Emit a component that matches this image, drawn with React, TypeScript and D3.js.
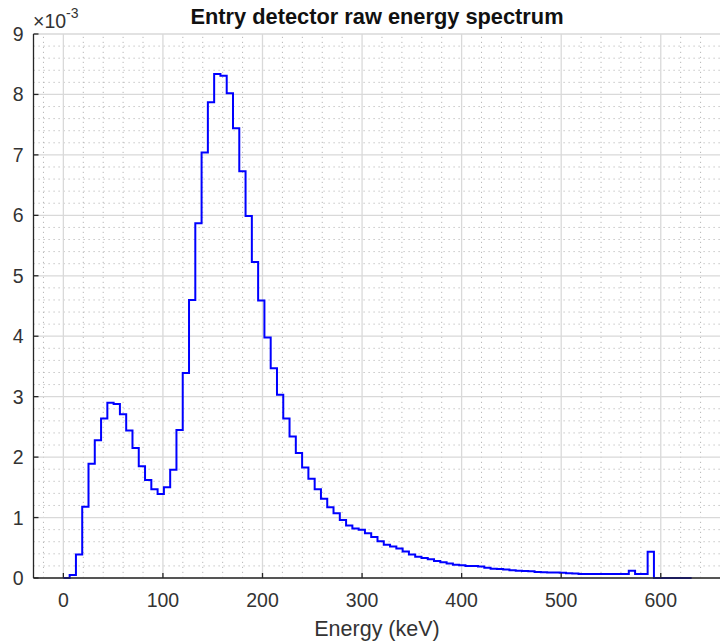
import React from 'react';
import * as d3 from 'd3';

const TITLE = 'Entry detector raw energy spectrum';
const X_LABEL = 'Energy (keV)';
const EXPONENT = '-3';

// histogram: first edge and bin width (keV)
const BIN_START_KEV = 0;
const BIN_WIDTH_KEV = 6.31;

// bin heights, in units of 1e-3
const COUNTS_E3 = [
  0, 0.05, 0.39, 1.18, 1.89, 2.28, 2.64, 2.9, 2.88, 2.71,
  2.44, 2.15, 1.85, 1.62, 1.47, 1.39, 1.5, 1.79, 2.45, 3.39,
  4.6, 5.87, 7.04, 7.87, 8.34, 8.31, 8.02, 7.44, 6.73, 5.99,
  5.23, 4.59, 3.98, 3.47, 3.03, 2.64, 2.34, 2.07, 1.83, 1.64,
  1.47, 1.31, 1.17, 1.07, 0.96, 0.87, 0.82, 0.8, 0.74, 0.68,
  0.61, 0.55, 0.52, 0.49, 0.44, 0.39, 0.35, 0.33, 0.31, 0.28,
  0.26, 0.24, 0.22, 0.21, 0.2, 0.2, 0.19, 0.17, 0.155, 0.15,
  0.14, 0.13, 0.12, 0.115, 0.11, 0.1, 0.095, 0.09, 0.09, 0.085,
  0.08, 0.075, 0.068, 0.066, 0.065, 0.065, 0.065, 0.065, 0.066, 0.066,
  0.12, 0.066, 0.066, 0.435, 0, 0, 0, 0, 0, 0,
];

const X_TICKS = [0, 100, 200, 300, 400, 500, 600];
const Y_TICKS = [0, 1, 2, 3, 4, 5, 6, 7, 8, 9];
const X_MINOR_STEP = 20;
const Y_MINOR_STEP = 0.2;
const X_DOMAIN: [number, number] = [-30, 660];
const Y_DOMAIN: [number, number] = [0, 9];

const FONT = '"Liberation Sans", Arial, Helvetica, sans-serif';

export default function App() {
  const W = 720;
  const H = 641;
  const left = 33.5;
  const right = 720.5;
  const top = 34;
  const bottom = 578;

  const x = d3.scaleLinear().domain(X_DOMAIN).range([left, right]);
  const y = d3.scaleLinear().domain(Y_DOMAIN).range([bottom, top]);

  const xMinor = d3
    .range(Math.ceil(X_DOMAIN[0] / X_MINOR_STEP) * X_MINOR_STEP, X_DOMAIN[1] + 0.001, X_MINOR_STEP)
    .filter((v) => Math.abs(v % 100) > 1e-6);
  const yMinor = d3
    .range(Y_DOMAIN[0], Y_DOMAIN[1] + 1e-6, Y_MINOR_STEP)
    .filter((v) => Math.abs(v - Math.round(v)) > 1e-6);

  const pts: [number, number][] = COUNTS_E3.map((v, i) => [BIN_START_KEV + i * BIN_WIDTH_KEV, v]);
  pts.push([BIN_START_KEV + COUNTS_E3.length * BIN_WIDTH_KEV, COUNTS_E3[COUNTS_E3.length - 1]]);
  const line = d3
    .line<[number, number]>()
    .x((d) => x(d[0]))
    .y((d) => y(d[1]))
    .curve(d3.curveStepAfter);

  const axisColor = '#262626';
  const textColor = '#333333';

  return (
    <svg
      width={W}
      height={H}
      style={{ position: 'absolute', left: 0, top: 0, background: '#fff' }}
      fontFamily={FONT}
    >
      <rect x={0} y={0} width={W} height={H} fill="#fff" />
      {/* minor grid */}
      <g stroke="#b8b8b8" strokeWidth={1} strokeDasharray="1.2,3.8">
        {xMinor.map((v) => (
          <line key={'xm' + v} x1={x(v)} x2={x(v)} y1={bottom} y2={top} />
        ))}
        {yMinor.map((v) => (
          <line key={'ym' + v} x1={left} x2={right} y1={y(v)} y2={y(v)} />
        ))}
      </g>
      {/* major grid */}
      <g stroke="#d9d9d9" strokeWidth={1.3}>
        {X_TICKS.map((v) => (
          <line key={'xg' + v} x1={x(v)} x2={x(v)} y1={bottom} y2={top} />
        ))}
        {Y_TICKS.map((v) => (
          <line key={'yg' + v} x1={left} x2={right} y1={y(v)} y2={y(v)} />
        ))}
      </g>
      {/* data */}
      <path d={line(pts) || ''} fill="none" stroke="#0000ff" strokeWidth={2} />
      {/* axes */}
      <g stroke={axisColor} strokeWidth={1.3}>
        <line x1={left} x2={left} y1={bottom} y2={top} />
        <line x1={left} x2={right} y1={bottom} y2={bottom} />
        {X_TICKS.map((v) => (
          <line key={'xt' + v} x1={x(v)} x2={x(v)} y1={bottom} y2={bottom - 5} />
        ))}
        {Y_TICKS.map((v) => (
          <line key={'yt' + v} x1={left} x2={left + 5} y1={y(v)} y2={y(v)} />
        ))}
      </g>
      {/* tick labels */}
      <g fill={textColor} fontSize={19.5}>
        {X_TICKS.map((v) => (
          <text key={'xl' + v} x={x(v)} y={606.5} textAnchor="middle">
            {v}
          </text>
        ))}
        {Y_TICKS.map((v) => (
          <text key={'yl' + v} x={23.5} y={y(v) + 7} textAnchor="end">
            {v}
          </text>
        ))}
      </g>
      {/* exponent */}
      <text x={33} y={28} fill={textColor} fontSize={19.5}>
        {'\u00d710'}
        <tspan fontSize={14} dy={-10}>
          {EXPONENT}
        </tspan>
      </text>
      {/* title */}
      <text x={(left + right) / 2} y={23.5} textAnchor="middle" fontWeight="bold" fontSize={21.8} fill="#111">
        {TITLE}
      </text>
      {/* x label */}
      <text x={(left + right) / 2} y={636} textAnchor="middle" fontSize={21.5} fill={textColor}>
        {X_LABEL}
      </text>
    </svg>
  );
}
